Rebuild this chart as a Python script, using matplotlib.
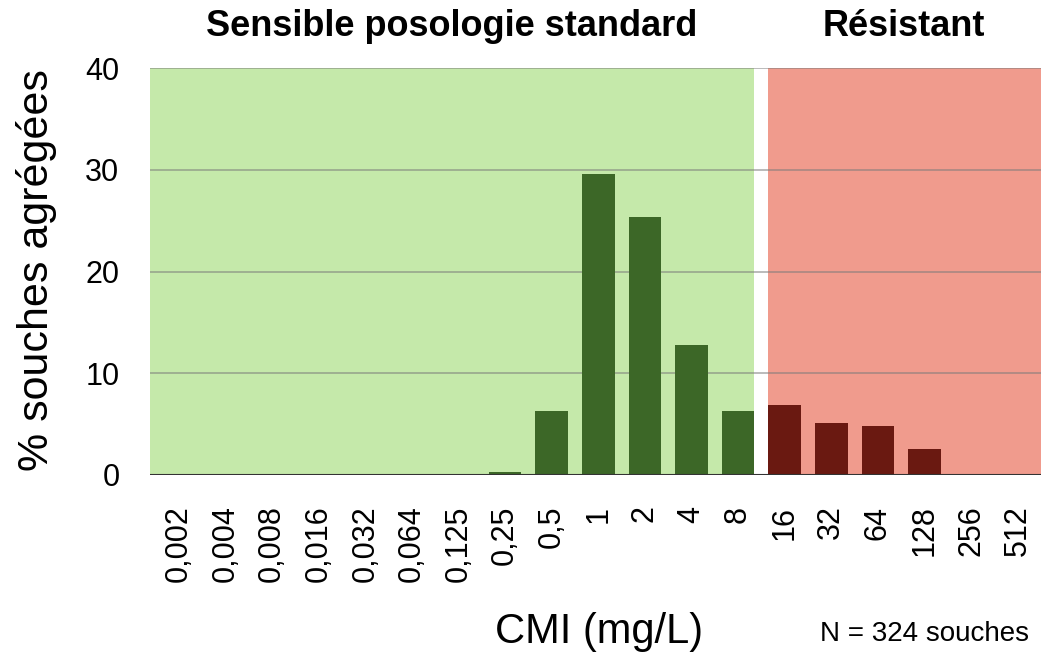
import matplotlib.pyplot as plt
import numpy as np

plt.rcParams['font.family'] = ['Liberation Sans', 'DejaVu Sans']

# CMI categories (mg/L) and % of strains
cmi_labels = ['0,002', '0,004', '0,008', '0,016', '0,032', '0,064', '0,125',
              '0,25', '0,5', '1', '2', '4', '8',
              '16', '32', '64', '128', '256', '512']
sensible_vals = [0, 0, 0, 0, 0, 0, 0, 0.3, 6.3, 29.6, 25.4, 12.8, 6.3]
resistant_vals = [6.9, 5.1, 4.8, 2.6, 0, 0]

green_bg = '#c5e9aa'
red_bg = '#f09b8d'
green_bar = '#3c6727'
red_bar = '#6a1911'

fig = plt.figure(figsize=(10.41, 6.57), dpi=100)
ax = fig.add_axes([150 / 1041, 1 - 475 / 657, 891 / 1041, (475 - 68) / 657])

n_s = len(sensible_vals)
x_s = np.arange(n_s)
x_r = np.arange(n_s, n_s + len(resistant_vals))
w = 0.7

# zone backgrounds
ax.axvspan(-0.62, n_s - 1 + w / 2, color=green_bg, zorder=0, lw=0)
ax.axvspan(n_s - w / 2, len(cmi_labels) - 0.5, color=red_bg, zorder=0, lw=0)

for yv in [10, 20, 30, 40]:
    ax.axhline(yv, color='#7a7a7a', lw=1.2, alpha=0.6, zorder=1)

ax.bar(x_s, sensible_vals, width=w, color=green_bar, zorder=2)
ax.bar(x_r, resistant_vals, width=w, color=red_bar, zorder=2)
ax.axhline(0, color='#333333', lw=1.5, zorder=3)

ax.set_xlim(-0.62, len(cmi_labels) - 0.5)
ax.set_ylim(0, 40)
ax.set_yticks([0, 10, 20, 30, 40])
ax.set_xticks(np.arange(len(cmi_labels)))
ax.set_xticklabels(cmi_labels, rotation=90)
ax.tick_params(axis='both', length=0, labelsize=22)
ax.tick_params(axis='y', pad=22)
ax.tick_params(axis='x', pad=22)
for s in ax.spines.values():
    s.set_visible(False)

# zone titles
fig.text(452 / 1041, 1 - 27 / 657, 'Sensible posologie standard', ha='center', va='center',
         fontsize=26, fontweight='bold')
fig.text(904 / 1041, 1 - 27 / 657, 'Résistant', ha='center', va='center',
         fontsize=26, fontweight='bold')

fig.text(37 / 1041, 1 - 270 / 657, '% souches agrégées', rotation=90, ha='center', va='center',
         fontsize=31)
fig.text(599 / 1041, 1 - 632 / 657, 'CMI (mg/L)', ha='center', va='center', fontsize=30)
fig.text(925 / 1041, 1 - 634 / 657, 'N = 324 souches', ha='center', va='center', fontsize=20)

fig.savefig('out.png', dpi=100)
